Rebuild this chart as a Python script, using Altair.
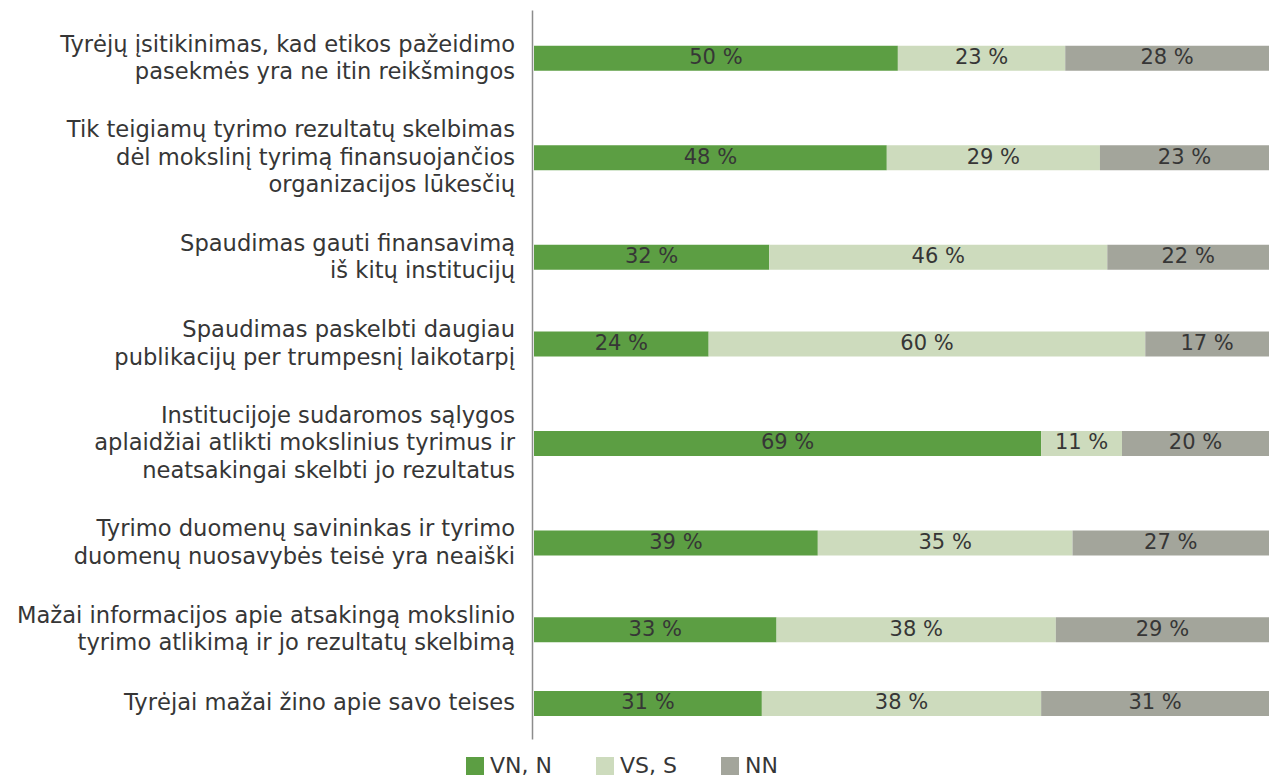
import altair as alt
import pandas as pd

categories = [
    "Tyrėjų įsitikinimas, kad etikos pažeidimo\npasekmės yra ne itin reikšmingos",
    "Tik teigiamų tyrimo rezultatų skelbimas\ndėl mokslinį tyrimą finansuojančios\norganizacijos lūkesčių",
    "Spaudimas gauti finansavimą\niš kitų institucijų",
    "Spaudimas paskelbti daugiau\npublikacijų per trumpesnį laikotarpį",
    "Institucijoje sudaromos sąlygos\naplaidžiai atlikti mokslinius tyrimus ir\nneatsakingai skelbti jo rezultatus",
    "Tyrimo duomenų savininkas ir tyrimo\nduomenų nuosavybės teisė yra neaiški",
    "Mažai informacijos apie atsakingą mokslinio\ntyrimo atlikimą ir jo rezultatų skelbimą",
    "Tyrėjai mažai žino apie savo teises",
]
series = ["VN, N", "VS, S", "NN"]
vn_n = [50, 48, 32, 24, 69, 39, 33, 31]
vs_s = [23, 29, 46, 60, 11, 35, 38, 38]
nn = [28, 23, 22, 17, 20, 27, 29, 31]
colors = ["#5c9e43", "#cddbbd", "#a3a59b"]

# row layout derived from the number of label lines (each row: its lines + a gap)
ROW_LINE = 26.0
GAP = 35.875
LABEL_LH = 28.0
rows, lines = [], []
start = 0.0
for i, c in enumerate(categories):
    parts = c.split("\n")
    n = len(parts)
    w = n * ROW_LINE + GAP
    pos = start + w / 2
    rows.append({"label": c, "pos": pos})
    for j, p in enumerate(parts):
        lines.append({"line": p, "lpos": pos + (j - (n - 1) / 2) * LABEL_LH})
    start += w
total = start
pos_of = {r["label"]: r["pos"] for r in rows}

recs = []
for i, c in enumerate(categories):
    for k, (s, vals) in enumerate(zip(series, [vn_n, vs_s, nn])):
        recs.append({"label": c, "pos": pos_of[c], "series": s, "order": k,
                     "value": vals[i], "pct": f"{vals[i]} %"})
df = pd.DataFrame(recs)
df_lines = pd.DataFrame(lines)

W, H = 737, 729
FONT = "DejaVu Sans"
TXT = "#363636"

yscale = alt.Scale(domain=[0, total], reverse=True, nice=False, zero=False)
xscale = alt.Scale(domain=[0, 1], range=[2, W], nice=False)

stacked = alt.Chart(df).transform_stack(
    stack="value", as_=["x0", "x1"], groupby=["label"], offset="normalize",
    sort=[alt.SortField("order", order="ascending")]
)

bars = stacked.mark_bar(orient="horizontal", size=25).encode(
    x=alt.X("x0:Q", scale=xscale, axis=None),
    x2="x1:Q",
    y=alt.Y("pos:Q", scale=yscale,
            axis=alt.Axis(domain=True, domainColor="#8c8c8c", domainWidth=1.5,
                          ticks=False, labels=False, grid=False, title=None)),
    color=alt.Color("series:N",
                    scale=alt.Scale(domain=series, range=colors),
                    sort=series,
                    legend=alt.Legend(title=None, orient="none", direction="horizontal",
                                      legendX=-68, legendY=745,
                                      symbolType="square", symbolSize=324,
                                      symbolStrokeWidth=0, labelFont=FONT,
                                      labelFontSize=22, labelColor=TXT,
                                      labelOffset=4, columnPadding=42)),
    order=alt.Order("order:Q"),
)

pct = stacked.transform_calculate(mid="(datum.x0 + datum.x1) / 2").mark_text(
    font=FONT, fontSize=21, color=TXT, align="center", baseline="middle"
).encode(
    x=alt.X("mid:Q", scale=xscale),
    y=alt.Y("pos:Q", scale=yscale),
    text="pct:N",
)

labels = alt.Chart(df_lines).mark_text(
    font=FONT, fontSize=22.6, color=TXT, align="right", baseline="middle"
).encode(
    x=alt.value(-17),
    y=alt.Y("lpos:Q", scale=yscale),
    text="line:N",
)

chart = alt.layer(bars, pct, labels).properties(
    width=W, height=H,
    autosize=alt.AutoSizeParams(type="none"),
    padding={"left": 524, "top": 2, "right": 0, "bottom": 40},
).configure_view(stroke=None)

chart.save("out.html", embed_options={"renderer": "svg", "actions": False})
